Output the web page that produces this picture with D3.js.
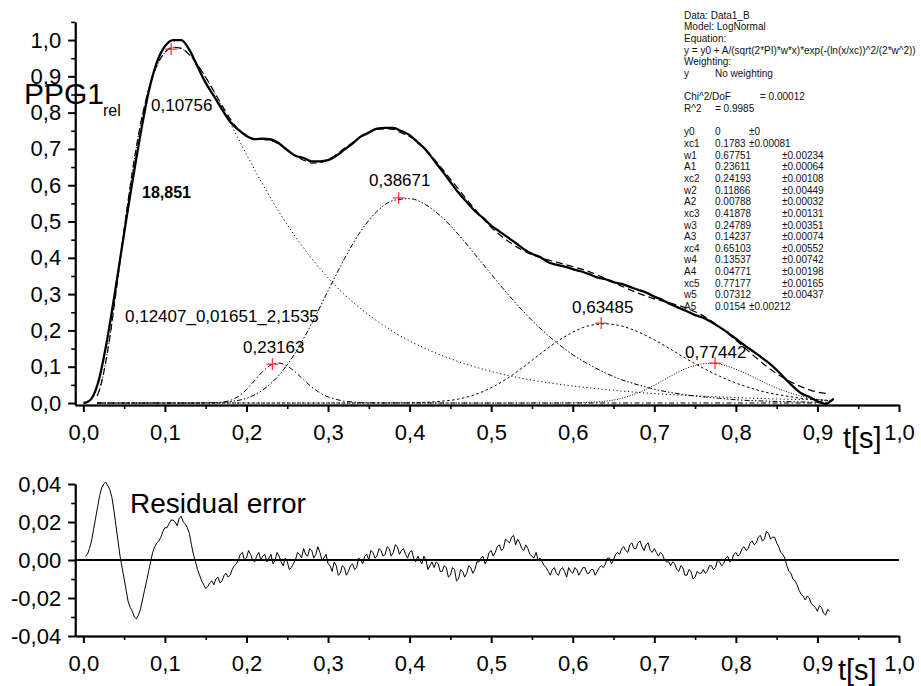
<!DOCTYPE html>
<html>
<head>
<meta charset="utf-8">
<script src="https://cdn.jsdelivr.net/npm/d3@7"></script>
<style>
  html, body { margin: 0; padding: 0; background: #fff; }
  svg { display: block; }
</style>
</head>
<body>
<svg id="chart" width="921" height="686"></svg>
<script>
// ---------- Measured PPG pulse (relative amplitude vs time in s) ----------
const ppgData = [
  [0.000,0.000],[0.005,0.003],[0.010,0.012],[0.015,0.035],[0.020,0.072],[0.025,0.125],
  [0.030,0.185],[0.035,0.252],[0.040,0.323],[0.045,0.396],[0.050,0.468],[0.06,0.609],
  [0.07,0.740],[0.08,0.857],[0.09,0.938],[0.10,0.983],[0.11,1.000],[0.12,1.000],
  [0.13,0.973],[0.14,0.927],[0.15,0.882],[0.16,0.846],[0.17,0.809],[0.18,0.775],
  [0.19,0.753],[0.20,0.736],[0.21,0.727],[0.22,0.728],[0.23,0.726],[0.24,0.715],
  [0.25,0.697],[0.26,0.681],[0.27,0.675],[0.28,0.666],[0.29,0.666],[0.30,0.669],
  [0.31,0.681],[0.32,0.698],[0.33,0.715],[0.34,0.734],[0.35,0.745],[0.36,0.756],
  [0.37,0.758],[0.38,0.758],[0.39,0.749],[0.40,0.738],[0.41,0.718],[0.42,0.697],
  [0.43,0.668],[0.44,0.639],[0.45,0.609],[0.46,0.579],[0.47,0.554],[0.48,0.529],
  [0.49,0.510],[0.50,0.489],[0.51,0.473],[0.52,0.457],[0.53,0.441],[0.54,0.424],
  [0.55,0.411],[0.56,0.402],[0.57,0.388],[0.58,0.381],[0.59,0.376],[0.60,0.369],
  [0.61,0.363],[0.62,0.355],[0.63,0.346],[0.64,0.341],[0.65,0.333],[0.66,0.328],
  [0.67,0.320],[0.68,0.312],[0.69,0.304],[0.70,0.293],[0.71,0.284],[0.72,0.272],
  [0.73,0.262],[0.74,0.253],[0.75,0.242],[0.76,0.235],[0.77,0.223],[0.78,0.209],
  [0.79,0.194],[0.80,0.177],[0.81,0.160],[0.82,0.144],[0.83,0.128],[0.84,0.111],
  [0.85,0.091],[0.86,0.068],[0.87,0.046],[0.88,0.027],[0.89,0.017],[0.90,0.005],
  [0.905,0.001],[0.910,-0.003],[0.915,0.003],[0.920,0.012]
];

// ---------- Cumulative LogNormal fit ----------
const fitSum = [
  [0.017,0.020],[0.02,0.038],[0.03,0.146],[0.04,0.305],[0.05,0.478],[0.06,0.636],
  [0.07,0.767],[0.08,0.863],[0.09,0.929],[0.10,0.966],[0.11,0.980],[0.12,0.977],
  [0.13,0.959],[0.14,0.932],[0.15,0.897],[0.16,0.859],[0.17,0.820],[0.18,0.783],
  [0.19,0.753],[0.20,0.735],[0.21,0.728],[0.22,0.726],[0.23,0.723],[0.24,0.713],
  [0.25,0.698],[0.26,0.681],[0.27,0.669],[0.28,0.661],[0.29,0.662],[0.30,0.671],
  [0.31,0.684],[0.32,0.702],[0.33,0.717],[0.34,0.734],[0.35,0.745],[0.36,0.754],
  [0.37,0.755],[0.38,0.754],[0.39,0.744],[0.40,0.734],[0.42,0.697],[0.44,0.645],
  [0.46,0.589],[0.48,0.534],[0.50,0.484],[0.52,0.447],[0.54,0.419],[0.56,0.401],
  [0.58,0.388],[0.60,0.376],[0.62,0.362],[0.64,0.343],[0.66,0.322],[0.68,0.303],
  [0.70,0.287],[0.72,0.275],[0.74,0.261],[0.76,0.240],[0.78,0.210],[0.80,0.173],
  [0.82,0.134],[0.84,0.097],[0.86,0.067],[0.88,0.045],[0.90,0.030],[0.912,0.026]
];

// ---------- Individual LogNormal components ----------
const peak1 = [
  [0.017,0.020],[0.02,0.038],[0.03,0.146],[0.04,0.305],[0.05,0.478],[0.06,0.636],
  [0.07,0.767],[0.08,0.863],[0.09,0.929],[0.10,0.966],[0.11,0.980],[0.12,0.977],
  [0.13,0.959],[0.14,0.932],[0.15,0.897],[0.16,0.858],[0.18,0.772],[0.20,0.685],
  [0.22,0.602],[0.24,0.526],[0.26,0.458],[0.28,0.398],[0.30,0.345],[0.32,0.299],
  [0.34,0.260],[0.36,0.226],[0.38,0.196],[0.40,0.171],[0.45,0.122],[0.50,0.087],
  [0.55,0.063],[0.60,0.047],[0.65,0.035],[0.70,0.026],[0.75,0.020],[0.80,0.015],
  [0.85,0.011],[0.90,0.009],[0.915,0.008]
];
const peak2 = [
  [0.017,0],[0.14,0],[0.16,0.0004],[0.17,0.002],[0.18,0.007],[0.19,0.018],[0.20,0.037],
  [0.21,0.062],[0.22,0.087],[0.23,0.105],[0.24,0.110],[0.25,0.102],[0.26,0.085],
  [0.27,0.064],[0.28,0.044],[0.29,0.028],[0.30,0.017],[0.31,0.010],[0.32,0.005],
  [0.33,0.003],[0.34,0.001],[0.36,0.0003],[0.40,0],[0.915,0]
];
const peak3 = [
  [0.017,0],[0.12,0],[0.14,0.0001],[0.16,0.001],[0.18,0.004],[0.20,0.013],[0.22,0.036],
  [0.24,0.077],[0.26,0.139],[0.28,0.219],[0.30,0.309],[0.32,0.397],[0.34,0.473],
  [0.36,0.528],[0.38,0.558],[0.40,0.563],[0.42,0.546],[0.44,0.511],[0.46,0.464],
  [0.48,0.410],[0.50,0.355],[0.52,0.301],[0.54,0.251],[0.56,0.206],[0.58,0.167],
  [0.60,0.133],[0.62,0.106],[0.64,0.083],[0.66,0.064],[0.68,0.050],[0.70,0.038],
  [0.72,0.029],[0.74,0.022],[0.76,0.017],[0.78,0.013],[0.80,0.009],[0.84,0.005],
  [0.88,0.003],[0.915,0.002]
];
const peak4 = [
  [0.017,0],[0.36,0],[0.40,0.0005],[0.42,0.002],[0.44,0.005],[0.46,0.011],[0.48,0.023],
  [0.50,0.042],[0.52,0.068],[0.54,0.100],[0.56,0.135],[0.58,0.168],[0.60,0.195],
  [0.62,0.213],[0.64,0.218],[0.66,0.212],[0.68,0.196],[0.70,0.174],[0.72,0.148],
  [0.74,0.121],[0.76,0.096],[0.78,0.074],[0.80,0.055],[0.82,0.040],[0.84,0.028],
  [0.86,0.020],[0.88,0.013],[0.90,0.009],[0.915,0.006]
];
const peak5 = [
  [0.017,0],[0.56,0],[0.60,0.0004],[0.62,0.002],[0.64,0.005],[0.66,0.013],[0.68,0.028],
  [0.70,0.049],[0.72,0.074],[0.74,0.096],[0.76,0.108],[0.77,0.109],[0.78,0.107],
  [0.80,0.093],[0.82,0.073],[0.84,0.051],[0.86,0.033],[0.88,0.019],[0.90,0.010],
  [0.915,0.006]
];

// Peak markers: time of each component maximum (as labelled) and its height
const peakTimes   = [0.10756, 0.23163, 0.38671, 0.63485, 0.77442];
const peakHeights = [0.975, 0.107, 0.565, 0.220, 0.110];
const peakLabels  = ["0,10756", "0,23163", "0,38671", "0,63485", "0,77442"];

// ---------- Residual (data - fit), one sample every 2.5 ms starting at 2.5 ms ----------
const residualStart = 0.0025, residualStep = 0.0025;
const residual = [
   0.002, 0.003, 0.006, 0.010, 0.016, 0.022, 0.028, 0.034, 0.038, 0.040,
   0.041, 0.039, 0.037, 0.033, 0.026, 0.018, 0.010, 0.002,-0.004,-0.010,
  -0.016,-0.022,-0.025,-0.027,-0.030,-0.031,-0.029,-0.026,-0.021,-0.016,
  -0.011,-0.006,-0.001, 0.004, 0.007, 0.009, 0.010, 0.012, 0.015, 0.017,
   0.017, 0.019, 0.021, 0.021, 0.020, 0.018, 0.022, 0.023, 0.020, 0.019,
   0.017, 0.014, 0.008, 0.003,-0.001,-0.005,-0.008,-0.011,-0.013,-0.015,
  -0.014,-0.012,-0.011,-0.013,-0.010,-0.009,-0.012,-0.011,-0.008,-0.007,
  -0.009,-0.008,-0.005,-0.003,-0.002, 0.000, 0.003, 0.004, 0.000, 0.001,
   0.005, 0.003, 0.000,-0.001, 0.002, 0.004, 0.000, 0.002, 0.003,-0.001,
   0.001, 0.003,-0.002, 0.000, 0.004, 0.002,-0.001,-0.003, 0.001,-0.001,
  -0.005,-0.004,-0.002, 0.000, 0.004, 0.003, 0.001, 0.006, 0.003, 0.002,
   0.006, 0.005, 0.001, 0.003, 0.007, 0.004, 0.000, 0.001, 0.003,-0.002,
  -0.003,-0.006,-0.001,-0.003,-0.008,-0.007,-0.003,-0.004,-0.008,-0.006,
  -0.003,-0.002,-0.005,-0.004, 0.001, 0.000,-0.002, 0.002, 0.003, 0.000,
   0.005, 0.004, 0.001, 0.002, 0.006, 0.005, 0.002, 0.003, 0.007, 0.006,
   0.002, 0.004, 0.008, 0.007, 0.003, 0.005, 0.006, 0.003, 0.001, 0.004,
   0.005, 0.001,-0.001, 0.002, 0.000,-0.002, 0.002, 0.000,-0.005,-0.003,
  -0.001,-0.004,-0.001,-0.002,-0.006,-0.006,-0.003,-0.004,-0.009,-0.008,
  -0.004,-0.005,-0.011,-0.010,-0.005,-0.006,-0.009,-0.007,-0.003,-0.004,
  -0.007,-0.005,-0.001,-0.001, 0.001, 0.002,-0.002, 0.000, 0.004, 0.005,
   0.002, 0.004, 0.007, 0.008, 0.005, 0.006, 0.011, 0.010, 0.009, 0.012,
   0.013, 0.008, 0.011, 0.009, 0.006, 0.005, 0.008, 0.006, 0.003, 0.002,
   0.001, 0.004, 0.000, 0.001,-0.001,-0.003,-0.004,-0.006,-0.008,-0.005,
  -0.004,-0.007,-0.008,-0.005,-0.004,-0.006,-0.009,-0.004,-0.006,-0.007,
  -0.004,-0.005,-0.008,-0.006,-0.004,-0.004,-0.007,-0.007,-0.005,-0.005,
  -0.008,-0.006,-0.004,-0.003,-0.004,-0.002, 0.001, 0.001,-0.002, 0.000,
   0.003, 0.004, 0.003, 0.006, 0.007, 0.005, 0.004, 0.008, 0.009, 0.006,
   0.006, 0.009, 0.010, 0.007, 0.005, 0.008, 0.009, 0.005, 0.004, 0.006,
   0.004, 0.002, 0.004, 0.003, 0.000,-0.001,-0.001,-0.003,-0.001,-0.002,
  -0.005,-0.006,-0.003,-0.004,-0.008,-0.008,-0.005,-0.006,-0.010,-0.009,
  -0.006,-0.007,-0.007,-0.005,-0.007,-0.006,-0.003,-0.003,-0.005,-0.004,
   0.000,-0.001,-0.003,-0.002, 0.001, 0.002,-0.001, 0.000, 0.003, 0.004,
   0.002, 0.003, 0.006, 0.007, 0.005, 0.006, 0.009, 0.010, 0.008, 0.009,
   0.012, 0.013, 0.010, 0.011, 0.015, 0.014, 0.011, 0.012, 0.012, 0.009,
   0.007, 0.004, 0.003, 0.001,-0.003,-0.006,-0.007,-0.010,-0.011,-0.013,
  -0.016,-0.018,-0.019,-0.021,-0.019,-0.020,-0.023,-0.024,-0.025,-0.027,
  -0.024,-0.025,-0.028,-0.029,-0.026,-0.027
];

// ---------- Axis ticks ----------
const xTicks      = [0, 0.1, 0.2, 0.3, 0.4, 0.5, 0.6, 0.7, 0.8, 0.9, 1.0];
const xTickLabels = ["0,0","0,1","0,2","0,3","0,4","0,5","0,6","0,7","0,8","0,9","1,0"];
const xMinorTicks = [0.05, 0.15, 0.25, 0.35, 0.45, 0.55, 0.65, 0.75, 0.85, 0.95];
const yTicks      = [0, 0.1, 0.2, 0.3, 0.4, 0.5, 0.6, 0.7, 0.8, 0.9, 1.0];
const yTickLabels = ["0,0","0,1","0,2","0,3","0,4","0,5","0,6","0,7","0,8","0,9","1,0"];
const yMinorTicks = [0.05, 0.15, 0.25, 0.35, 0.45, 0.55, 0.65, 0.75, 0.85, 0.95, 1.05];
const rTicks      = [-0.04, -0.02, 0, 0.02, 0.04];
const rTickLabels = ["-0,04","-0,02","0,00","0,02","0,04"];
const rMinorTicks = [-0.03, -0.01, 0.01, 0.03];

// ---------- Fit report ----------
const reportHeader = ["Data: Data1_B", "Model: LogNormal", "Equation:",
  "y = y0 + A/(sqrt(2*PI)*w*x)*exp(-(ln(x/xc))^2/(2*w^2))", "Weighting:"];
const reportStats = [["y", "No weighting"], ["", ""], ["Chi^2/DoF", "= 0.00012"], ["R^2", "=  0.9985"], ["", ""]];
const paramNames  = ["y0","xc1","w1","A1","xc2","w2","A2","xc3","w3","A3","xc4","w4","A4","xc5","w5","A5"];
const paramValues = ["0","0.1783","0.67751","0.23611","0.24193","0.11866","0.00788","0.41878",
                     "0.24789","0.14237","0.65103","0.13537","0.04771","0.77177","0.07312","0.0154"];
const paramErrors = ["±0","±0.00081","±0.00234","±0.00064","±0.00108","±0.00449","±0.00032","±0.00131",
                     "±0.00351","±0.00074","±0.00552","±0.00742","±0.00198","±0.00165","±0.00437","±0.00212"];

// ---------- Drawing ----------
const FONT = "'Liberation Sans', Arial, Helvetica, sans-serif";
const svg = d3.select("#chart");
svg.append("rect").attr("width", 921).attr("height", 686).attr("fill", "#fff");

const x = d3.scaleLinear().domain([-0.01, 1.0]).range([75.2, 899]);
const y = d3.scaleLinear().domain([-0.0055, 1.05]).range([405, 21.9]);
const yr = d3.scaleLinear().domain([-0.04, 0.04]).range([636, 484]);

function styleAxis(g, width) {
  g.select(".domain").attr("stroke", "#000").attr("stroke-width", width);
  g.selectAll(".tick line").attr("stroke", "#000").attr("stroke-width", width);
  g.selectAll("text").attr("font-family", FONT).attr("font-size", 22).attr("fill", "#000");
}

function drawXAxis(yPos) {
  const gMinor = svg.append("g").attr("transform", `translate(0,${yPos})`)
    .call(d3.axisBottom(x).tickValues(xMinorTicks).tickFormat("").tickSize(4).tickSizeOuter(0));
  styleAxis(gMinor, 1.6);
  const g = svg.append("g").attr("transform", `translate(0,${yPos})`)
    .call(d3.axisBottom(x).tickValues(xTicks).tickFormat((d, i) => xTickLabels[i])
      .tickSize(7).tickSizeOuter(0).tickPadding(12));
  styleAxis(g, 2);
}

function drawYAxis(scale, ticks, labels, minor) {
  const gMinor = svg.append("g").attr("transform", `translate(${x(-0.01)},0)`)
    .call(d3.axisLeft(scale).tickValues(minor).tickFormat("").tickSize(4).tickSizeOuter(0));
  styleAxis(gMinor, 1.6);
  const g = svg.append("g").attr("transform", `translate(${x(-0.01)},0)`)
    .call(d3.axisLeft(scale).tickValues(ticks).tickFormat((d, i) => labels[i])
      .tickSize(7).tickSizeOuter(0).tickPadding(7));
  styleAxis(g, 2);
}

// Upper panel: pulse decomposition
const line = d3.line().x(d => x(d[0])).y(d => y(d[1])).curve(d3.curveMonotoneX);

const components = [
  { data: peak1, dash: "1.2,2.6", width: 1 },
  { data: peak2, dash: "5,2.5,1.5,2.5", width: 1 },
  { data: peak3, dash: "5,2,1.5,2,1.5,2", width: 1 },
  { data: peak4, dash: "2.5,2.5", width: 1 },
  { data: peak5, dash: "1,1.6", width: 1 }
];
svg.append("g").selectAll("path").data(components).join("path")
  .attr("d", c => line(c.data))
  .attr("fill", "none").attr("stroke", "#000")
  .attr("stroke-width", c => c.width)
  .attr("stroke-dasharray", c => c.dash);

svg.append("path").attr("d", line(fitSum))
  .attr("fill", "none").attr("stroke", "#000").attr("stroke-width", 1.2)
  .attr("stroke-dasharray", "7,4");

svg.append("path").attr("d", line(ppgData))
  .attr("fill", "none").attr("stroke", "#000").attr("stroke-width", 2.3)
  .attr("stroke-linejoin", "round");

// Peak markers
const cross = svg.append("g").selectAll("g").data(peakTimes).join("g")
  .attr("transform", (d, i) => `translate(${x(d)},${y(peakHeights[i])})`);
cross.append("line").attr("x1", -6).attr("x2", 6).attr("stroke", "#f00").attr("stroke-width", 1);
cross.append("line").attr("y1", -6).attr("y2", 6).attr("stroke", "#f00").attr("stroke-width", 1);

drawXAxis(405);
drawYAxis(y, yTicks, yTickLabels, yMinorTicks);

// Peak annotations
const labelPos = [[151, 111], [243, 353], [369, 186], [572, 313], [685, 358]];
svg.append("g").selectAll("text").data(peakLabels).join("text")
  .attr("x", (d, i) => labelPos[i][0]).attr("y", (d, i) => labelPos[i][1])
  .attr("font-family", FONT).attr("font-size", 17).attr("fill", "#000")
  .text(d => d);

svg.append("text").attr("x", 125).attr("y", 322)
  .attr("font-family", FONT).attr("font-size", 17).text("0,12407_0,01651_2,1535");
svg.append("text").attr("x", 142).attr("y", 198)
  .attr("font-family", FONT).attr("font-size", 16).attr("font-weight", "bold").text("18,851");

// Axis titles
svg.append("text").attr("x", 24).attr("y", 104)
  .attr("font-family", FONT).attr("font-size", 30).text("PPG1");
svg.append("text").attr("x", 103).attr("y", 116)
  .attr("font-family", FONT).attr("font-size", 16).text("rel");
svg.append("text").attr("x", 843).attr("y", 448)
  .attr("font-family", FONT).attr("font-size", 29).text("t[s]");

// Fit report block
const rep = svg.append("g").attr("font-family", FONT).attr("font-size", 10).attr("fill", "#111");
const lineH = 11.65, reportTop = 18.8, col0 = 684, col1 = 715;
reportHeader.forEach((t, i) => rep.append("text").attr("x", col0).attr("y", reportTop + i * lineH).text(t));
reportStats.forEach((r, i) => {
  const yy = reportTop + (reportHeader.length + i) * lineH;
  rep.append("text").attr("x", col0).attr("y", yy).text(r[0]);
  rep.append("text").attr("x", r[0] === "Chi^2/DoF" ? 760 : col1).attr("y", yy).text(r[1]);
});
paramNames.forEach((n, i) => {
  const yy = reportTop + (reportHeader.length + reportStats.length + i) * lineH;
  rep.append("text").attr("x", col0).attr("y", yy).text(n);
  rep.append("text").attr("x", col1).attr("y", yy).text(paramValues[i]);
  rep.append("text").attr("x", paramValues[i].length < 7 ? 749 : 782).attr("y", yy).text(paramErrors[i]);
});

// Lower panel: residual error
svg.append("line").attr("x1", x(-0.01)).attr("x2", x(1.0))
  .attr("y1", yr(0)).attr("y2", yr(0)).attr("stroke", "#000").attr("stroke-width", 2);

const rLine = d3.line()
  .x((d, i) => x(residualStart + i * residualStep))
  .y(d => yr(d));
svg.append("path").attr("d", rLine(residual))
  .attr("fill", "none").attr("stroke", "#000").attr("stroke-width", 1);

drawXAxis(636);
drawYAxis(yr, rTicks, rTickLabels, rMinorTicks);

svg.append("text").attr("x", 130).attr("y", 513)
  .attr("font-family", FONT).attr("font-size", 28).text("Residual error");
svg.append("text").attr("x", 838).attr("y", 680)
  .attr("font-family", FONT).attr("font-size", 29).text("t[s]");
</script>
</body>
</html>
